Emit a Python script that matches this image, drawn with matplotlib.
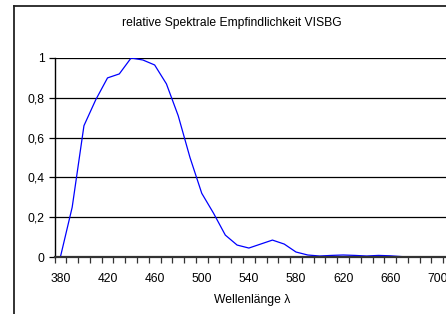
import matplotlib
matplotlib.use("Agg")
import matplotlib.pyplot as plt
from matplotlib.lines import Line2D

wavelength = [380, 390, 400, 410, 420, 430, 440, 450, 460, 470, 480, 490, 500,
              510, 520, 530, 540, 550, 560, 570, 580, 590, 600, 610, 620, 630,
              640, 650, 660, 670, 680, 690, 700, 710]
sensitivity = [0.0, 0.25, 0.66, 0.79, 0.90, 0.92, 1.0, 0.99, 0.965, 0.87, 0.71,
               0.50, 0.32, 0.22, 0.11, 0.06, 0.045, 0.065, 0.085, 0.065, 0.025,
               0.01, 0.005, 0.008, 0.01, 0.008, 0.005, 0.008, 0.006, 0.002,
               0.0, 0.0, 0.0, 0.0]
x_ticks = [380, 420, 460, 500, 540, 580, 620, 660, 700]
y_ticks = [0, 0.2, 0.4, 0.6, 0.8, 1.0]
y_labels = ["0", "0,2", "0,4", "0,6", "0,8", "1"]
title = "relative Spektrale Empfindlichkeit VISBG"
xlabel = "Wellenlänge λ"

plt.rcParams['font.family'] = ['Liberation Sans', 'DejaVu Sans']
FS = 8.7

W, H = 446, 314
fig = plt.figure(figsize=(W / 100, H / 100), dpi=100)

# plot area in pixels
left, right = 54.5, 449
top, bottom = 58, 257
ax = fig.add_axes([left / W, 1 - bottom / H, (right - left) / W, (bottom - top) / H])

px_per_nm = 1.178
x0 = 380 - 5.9 / px_per_nm
x1 = x0 + (right - left) / px_per_nm

for yv in y_ticks[1:]:
    ax.axhline(yv, color='black', lw=0.9, zorder=1)

ax.plot(wavelength, sensitivity, color='#0000ff', lw=0.9, zorder=3, clip_on=True)

for s in ['top', 'right']:
    ax.spines[s].set_visible(False)
ax.spines['left'].set_color('black')
ax.spines['left'].set_linewidth(1.0)
ax.spines['bottom'].set_color('#333333')
ax.spines['bottom'].set_linewidth(1.6)
ax.spines['bottom'].set_zorder(4)

ax.set_yticks(y_ticks)
ax.set_yticklabels(y_labels)
bounds = [375 + 10 * i for i in range(34)]
ax.set_xticks(bounds)
ax.set_xticklabels([""] * len(bounds))
ax.tick_params(axis='x', direction='out', length=4, width=0.9, color='#333333')
ax.tick_params(axis='y', direction='out', length=4, width=0.9, labelsize=FS, pad=3)
ax.set_xlim(x0, x1)
ax.set_ylim(0, 1)

for xt in x_ticks:
    ax.annotate(str(xt), xy=(xt, 0), xycoords=('data', 'axes fraction'),
                xytext=(0, -21.5), textcoords='offset pixels',
                ha='center', va='center', fontsize=FS, annotation_clip=False)

fig.text(232 / W, 1 - 23 / H, title, ha='center', va='center', fontsize=FS)
fig.text(252 / W, 1 - 300.5 / H, xlabel, ha='center', va='center', fontsize=FS)

# outer chart frame
fig.add_artist(Line2D([13.5 / W, 13.5 / W], [0, 1 - 5.5 / H], color='#222222', lw=1.3,
                      transform=fig.transFigure))
fig.add_artist(Line2D([13.5 / W, 1.0], [1 - 5.5 / H, 1 - 5.5 / H], color='#222222', lw=1.3,
                      transform=fig.transFigure))

fig.savefig("out.png", dpi=100)
